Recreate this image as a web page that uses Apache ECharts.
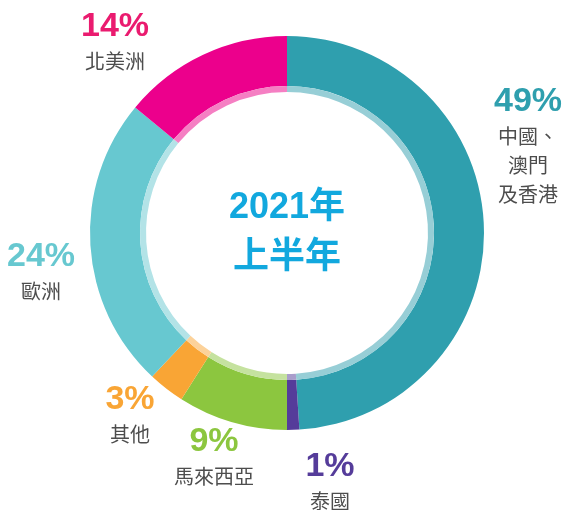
<!DOCTYPE html>
<html>
<head>
<meta charset="utf-8">
<script src="https://cdn.jsdelivr.net/npm/echarts@6/dist/echarts.min.js"></script>
<style>
  html, body { margin: 0; padding: 0; background: #fff; }
  #chart { width: 566px; height: 510px; }
</style>
</head>
<body>
<div id="chart"></div>
<script>
// share by region, first half of 2021 (clockwise from 12 o'clock)
const regions = ["中國、\n澳門\n及香港", "泰國", "馬來西亞", "其他", "歐洲", "北美洲"];
const shares = [49, 1, 9, 3, 24, 14];

const ringColors = ["#2f9fae", "#553c9a", "#8cc63f", "#f9a535", "#67c8d0", "#ec008c"];
const bandColors = ["#97ced6", "#a99dcb", "#c5e29f", "#fcd29a", "#b3e3e7", "#f57fc3"];
const labelColors = ["#2f9fae", "#553c9a", "#8cc63f", "#f9a535", "#67c8d0", "#ea1b6f"];
// where each label block sits (centre x, top y)
const labelPos = [[528, 82], [330, 447], [214, 422], [130, 380], [41, 237], [115, 7]];

const centre = [287, 233];
const chart = echarts.init(document.getElementById("chart"));

chart.setOption({
  animation: false,
  graphic: [{
    type: "text",
    x: centre[0],
    y: centre[1],
    style: {
      text: "2021年\n上半年",
      align: "center",
      verticalAlign: "middle",
      fill: "#12a8de",
      fontFamily: "'Liberation Sans', 'Noto Sans CJK TC', sans-serif",
      fontWeight: "bold",
      fontSize: 36,
      lineHeight: 50
    }
  }],
  series: [
    {
      type: "pie",
      center: centre,
      radius: [147, 197],
      startAngle: 90,
      clockwise: true,
      silent: true,
      itemStyle: { borderWidth: 0 },
      data: shares.map((v, i) => ({
        value: v,
        name: regions[i],
        itemStyle: { color: ringColors[i] },
        label: { rich: { p: { color: labelColors[i] } } }
      })),
      label: {
        show: true,
        position: "outside",
        overflow: "none",
        alignTo: "none",
        formatter: (p) => `{p|${p.value}%}\n` + p.name.split("\n").map(s => `{n|${s}}`).join("\n"),
        align: "center",
        rich: {
          p: {
            fontFamily: "'Liberation Sans', Arial, sans-serif",
            fontWeight: "bold",
            fontSize: 34,
            lineHeight: 40,
            align: "center"
          },
          n: {
            fontFamily: "'Noto Sans CJK TC', sans-serif",
            fontSize: 20,
            lineHeight: 29,
            color: "#4d4d4d",
            align: "center"
          }
        }
      },
      labelLine: { show: false },
      labelLayout: (params) => {
        const p = labelPos[params.dataIndex];
        return { x: p[0], y: p[1], align: "center", verticalAlign: "top" };
      }
    },
    {
      type: "pie",
      center: centre,
      radius: [141, 147],
      startAngle: 90,
      clockwise: true,
      silent: true,
      label: { show: false },
      labelLine: { show: false },
      itemStyle: { borderWidth: 0 },
      data: shares.map((v, i) => ({ value: v, name: regions[i], itemStyle: { color: bandColors[i] } }))
    }
  ]
});
</script>
</body>
</html>
